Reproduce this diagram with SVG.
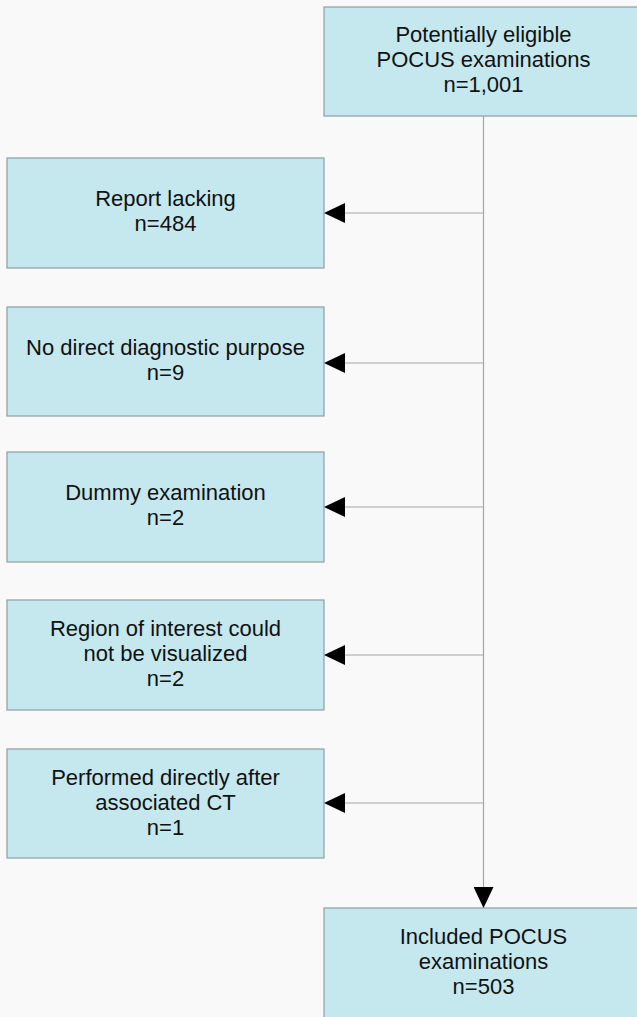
<svg xmlns="http://www.w3.org/2000/svg" width="637" height="1017" viewBox="0 0 637 1017">
<style>
.box{fill:#c4e8ee;stroke:#8e9ea3;stroke-width:1.2}
.t{font-family:"Liberation Sans",Arial,sans-serif;font-size:22px;fill:#111;text-anchor:middle}
.ln{stroke:#a6a6a6;stroke-width:1.2;fill:none}
</style>
<defs>
<marker id="ah" markerWidth="21" markerHeight="20" refX="21" refY="10" orient="auto" markerUnits="userSpaceOnUse">
<path d="M0,0 L21,10 L0,20 Z" fill="#000"/>
</marker>
</defs>
<rect x="0" y="0" width="637" height="1017" fill="#f9f9f9"/>
<g id="connectors">
<line class="ln" x1="483.5" y1="116" x2="483.5" y2="908" marker-end="url(#ah)"/>
<line class="ln" x1="483.5" y1="213" x2="324" y2="213" marker-end="url(#ah)"/>
<line class="ln" x1="483.5" y1="363" x2="324" y2="363" marker-end="url(#ah)"/>
<line class="ln" x1="483.5" y1="507" x2="324" y2="507" marker-end="url(#ah)"/>
<line class="ln" x1="483.5" y1="655" x2="324" y2="655" marker-end="url(#ah)"/>
<line class="ln" x1="483.5" y1="803" x2="324" y2="803" marker-end="url(#ah)"/>
</g>
<g id="n0">
<rect class="box" x="324" y="7" width="320" height="109"/>
<text class="t" x="483.5" y="41.5">Potentially eligible</text>
<text class="t" x="483.5" y="66.5">POCUS examinations</text>
<text class="t" x="483.5" y="91.5">n=1,001</text>
</g>
<g id="n1">
<rect class="box" x="7" y="158" width="317" height="110"/>
<text class="t" x="165.5" y="206">Report lacking</text>
<text class="t" x="165.5" y="231">n=484</text>
</g>
<g id="n2">
<rect class="box" x="7" y="307" width="317" height="109"/>
<text class="t" x="165.5" y="355">No direct diagnostic purpose</text>
<text class="t" x="165.5" y="380">n=9</text>
</g>
<g id="n3">
<rect class="box" x="7" y="452" width="317" height="110"/>
<text class="t" x="165.5" y="500">Dummy examination</text>
<text class="t" x="165.5" y="525">n=2</text>
</g>
<g id="n4">
<rect class="box" x="7" y="600" width="317" height="110"/>
<text class="t" x="165.5" y="635.5">Region of interest could</text>
<text class="t" x="165.5" y="660.5">not be visualized</text>
<text class="t" x="165.5" y="685.5">n=2</text>
</g>
<g id="n5">
<rect class="box" x="7" y="749" width="317" height="109"/>
<text class="t" x="165.5" y="784.5">Performed directly after</text>
<text class="t" x="165.5" y="809.5">associated CT</text>
<text class="t" x="165.5" y="834.5">n=1</text>
</g>
<g id="n6">
<rect class="box" x="324" y="908" width="320" height="115"/>
<text class="t" x="483.5" y="943.5">Included POCUS</text>
<text class="t" x="483.5" y="968.5">examinations</text>
<text class="t" x="483.5" y="993.5">n=503</text>
</g>
</svg>
